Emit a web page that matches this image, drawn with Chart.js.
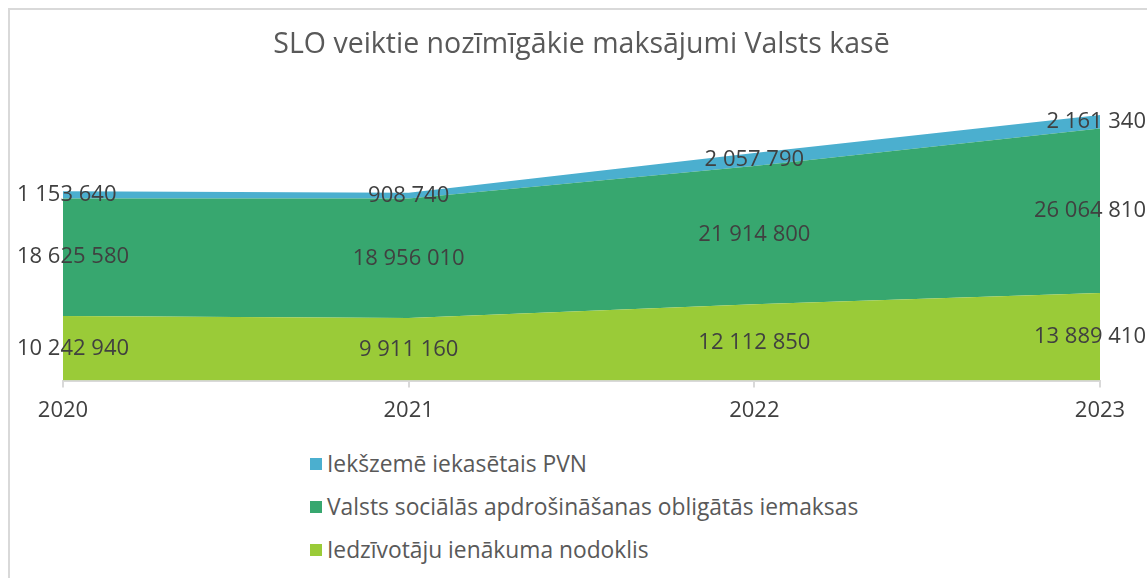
<!DOCTYPE html>
<html>
<head>
<meta charset="utf-8">
<script src="https://cdn.jsdelivr.net/npm/chart.js@4/dist/chart.umd.min.js"></script>
<style>
  html, body { margin: 0; padding: 0; background: #fff; overflow: hidden; }
  body { width: 1147px; height: 578px; position: relative; font-family: 'Open Sans', sans-serif; }
  .frame { position: absolute; left: 8px; top: 8px; width: 1200px; height: 640px; border: 2px solid #d9d9d9; box-sizing: border-box; }
  .chart-wrap { position: absolute; left: 0; top: 0; width: 1147px; height: 440px; }
  .legend { position: absolute; left: 310px; top: 442px; color: #595959; font-size: 22.8px; }
  .legend div { height: 43px; display: flex; align-items: center; }
  .legend span.box { width: 12px; height: 12px; margin-right: 5px; display: inline-block; }
</style>
</head>
<body>
<div class="frame"></div>
<div class="chart-wrap"><canvas id="areaChart" width="1147" height="440"></canvas></div>
<div class="legend" id="legend"></div>
<script>
const years = ['2020', '2021', '2022', '2023'];
const incomeTax = [10242940, 9911160, 12112850, 13889410];
const socialContrib = [18625580, 18956010, 21914800, 26064810];
const domesticVat = [1153640, 908740, 2057790, 2161340];
const seriesNames = [
  'Iedzīvotāju ienākuma nodoklis',
  'Valsts sociālās apdrošināšanas obligātās iemaksas',
  'Iekšzemē iekasētais PVN'
];
const seriesColors = ['#9acb38', '#37a76f', '#4bafcf'];
const yMax = 45000000;

const fmt = (n) => String(n).replace(/\B(?=(\d{3})+(?!\d))/g, ' ');

// labels in the middle of each band, pushed inside the canvas at the edges
const bandLabels = {
  id: 'bandLabels',
  afterDatasetsDraw(chart) {
    const ctx = chart.ctx;
    const bottom = chart.scales.y.bottom;
    ctx.save();
    ctx.font = '22px "Open Sans"';
    ctx.fillStyle = '#404040';
    ctx.textBaseline = 'middle';
    ctx.textAlign = 'left';
    chart.data.datasets.forEach((ds, i) => {
      const meta = chart.getDatasetMeta(i);
      const below = i > 0 ? chart.getDatasetMeta(i - 1) : null;
      meta.data.forEach((pt, j) => {
        const base = below ? below.data[j].y : bottom;
        const txt = fmt(ds.data[j]);
        const w = ctx.measureText(txt).width;
        let x = pt.x - w / 2;
        x = Math.max(17, Math.min(x, chart.width - 1 - w));
        ctx.fillText(txt, x, (pt.y + base) / 2);
      });
    });
    ctx.restore();
  }
};

const values = [incomeTax, socialContrib, domesticVat];

new Chart(document.getElementById('areaChart'), {
  type: 'line',
  data: {
    labels: years,
    datasets: values.map((v, i) => ({
      label: seriesNames[i],
      data: v,
      backgroundColor: seriesColors[i],
      borderWidth: 0,
      pointRadius: 0,
      fill: i === 0 ? 'origin' : '-1',
      tension: 0
    }))
  },
  options: {
    responsive: false,
    animation: false,
    layout: { padding: { left: 63, right: 47, top: 0, bottom: 6 } },
    plugins: {
      legend: { display: false },
      tooltip: { enabled: false },
      title: {
        display: true,
        text: 'SLO veiktie nozīmīgākie maksājumi Valsts kasē',
        color: '#595959',
        font: { family: 'Open Sans', size: 28.5, weight: 'normal' },
        padding: { top: 28, bottom: 34.5 }
      }
    },
    scales: {
      x: {
        offset: false,
        border: { color: '#d9d9d9', width: 2 },
        grid: { drawOnChartArea: false, drawTicks: true, tickLength: 7, color: '#d9d9d9', lineWidth: 2 },
        ticks: { color: '#404040', padding: 10, font: { family: 'Open Sans', size: 22 }, maxRotation: 0 }
      },
      y: { display: false, stacked: true, min: 0, max: yMax }
    }
  },
  plugins: [bandLabels]
});

const legend = document.getElementById('legend');
[2, 1, 0].forEach((i) => {
  const row = document.createElement('div');
  row.innerHTML = `<span class="box" style="background:${seriesColors[i]}"></span>${seriesNames[i]}`;
  legend.appendChild(row);
});
</script>
</body>
</html>
